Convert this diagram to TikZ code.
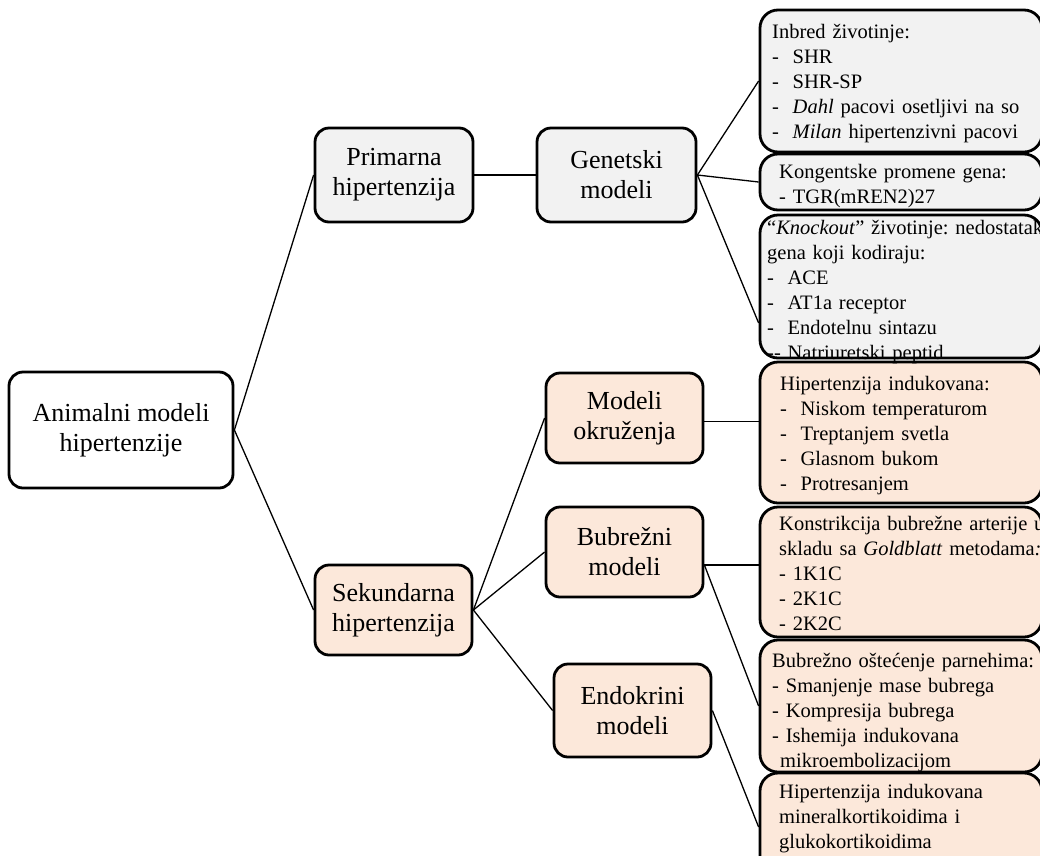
\documentclass[tikz,border=0pt]{standalone}
\usepackage{fontspec}
\setmainfont{Liberation Serif}
\usetikzlibrary{calc}
\definecolor{boxgray}{HTML}{F2F2F2}
\definecolor{boxpeach}{HTML}{FCE8DA}
\frenchspacing

\tikzset{
  mainbox/.style={draw=black, line width=2.8pt, rounded corners=14pt,
    align=center, inner sep=0pt, text=black,
    font=\fontsize{26}{30}\selectfont},
  listbox/.style={draw=black, line width=2.8pt, rounded corners=18pt,
    inner sep=0pt, minimum width=282pt},
  listtext/.style={anchor=base west, inner sep=0pt, text width=320pt,
    align=left, font=\fontsize{20.5}{25}\selectfont\frenchspacing},
  conn/.style={draw=black, line width=1.3pt},
}

\begin{document}
\begin{tikzpicture}[x=1pt, y=-1pt]
\useasboundingbox (0,0) rectangle (1040,855);
\clip (0,0) rectangle (1040,855);

% tree levels
\node[mainbox, fill=white, minimum width=224pt, minimum height=116pt] (root) at (121,430) {Animalni modeli\\hipertenzije};
\node[mainbox, fill=boxgray, minimum width=158pt, minimum height=94pt] (prim) at (394,175) {Primarna\\hipertenzija};
\node[mainbox, fill=boxpeach, minimum width=157pt, minimum height=90pt] (sek) at (393.5,610) {Sekundarna\\hipertenzija};
\node[mainbox, fill=boxgray, minimum width=159pt, minimum height=94pt] (gen) at (616.5,175) {Genetski\\modeli};
\node[mainbox, fill=boxpeach, minimum width=157pt, minimum height=90pt] (mod) at (624.5,418) {Modeli\\okruženja};
\node[mainbox, fill=boxpeach, minimum width=157pt, minimum height=90pt] (bub) at (624.5,552) {Bubrežni\\modeli};
\node[mainbox, fill=boxpeach, minimum width=157pt, minimum height=93pt] (endo) at (632.5,710.5) {Endokrini\\modeli};

% list boxes on the right
\node[listbox, fill=boxgray, minimum height=142pt] (r1) at (901,81) {};
\node[listbox, fill=boxgray, minimum height=56pt] (r2) at (901,182) {};
\node[listbox, fill=boxgray, minimum height=143pt] (r3) at (901,286.5) {};
\node[listbox, fill=boxpeach, minimum height=141pt] (r4) at (901,432.5) {};
\node[listbox, fill=boxpeach, minimum height=130pt] (r5) at (901,572) {};
\node[listbox, fill=boxpeach, minimum height=132pt] (r6) at (901,706) {};
\node[listbox, fill=boxpeach, minimum height=108pt] (r7) at (901,827) {};

% list texts
\node[listtext] (t1) at (772,38) {Inbred životinje:\\-\ \ SHR\\-\ \ SHR-SP\\-\ \ \textit{Dahl} pacovi osetljivi na so\\-\ \ \textit{Milan} hipertenzivni pacovi};
\node[listtext] (t2) at (779,178) {Kongentske promene gena:\\- TGR(mREN2)27};
\node[listtext] (t3) at (767,234) {“\textit{Knockout}” životinje: nedostatak\\gena koji kodiraju:\\-\ \ ACE\\-\ \ AT1a receptor\\-\ \ Endotelnu sintazu\\-{}- Natriuretski peptid};
\node[listtext] (t4) at (780,390) {Hipertenzija indukovana:\\-\ \ Niskom temperaturom\\-\ \ Treptanjem svetla\\-\ \ Glasnom bukom\\-\ \ Protresanjem};
\node[listtext] (t5) at (779,530) {Konstrikcija bubrežne arterije u\\skladu sa \textit{Goldblatt} metodama\textit{:}\\- 1K1C\\- 2K1C\\- 2K2C};
\node[listtext] (t6) at (772,667) {Bubrežno oštećenje parnehima:\\- Smanjenje mase bubrega\\- Kompresija bubrega\\- Ishemija indukovana\\\hspace*{8pt}mikroembolizacijom};
\node[listtext] (t7) at (779,798) {Hipertenzija indukovana\\mineralkortikoidima i\\glukokortikoidima};

% connectors
\draw[conn] (root.east) -- (prim.west);
\draw[conn] (root.east) -- (sek.west);
\draw[conn] (prim.east) -- (gen.west);
\draw[conn] (gen.east) -- (r1.west);
\draw[conn] (gen.east) -- (r2.west);
\coordinate (r3in) at ($(r3.north west)!0.75!(r3.south west)$);
\draw[conn] (gen.east) -- (r3in);
\draw[conn] (sek.east) -- (mod.west);
\draw[conn] (sek.east) -- (bub.west);
\draw[conn] (sek.east) -- (endo.west);
\coordinate (modout) at ($(mod.north east)!0.54!(mod.south east)$);
\draw[conn] (modout) -- (modout -| r4.west);
\coordinate (bubout) at ($(bub.north east)!0.64!(bub.south east)$);
\draw[conn] (bubout) -- (bubout -| r5.west);
\draw[conn] (bubout) -- (r6.west);
\draw[conn] (endo.east) -- (r7.west);
\end{tikzpicture}
\end{document}
